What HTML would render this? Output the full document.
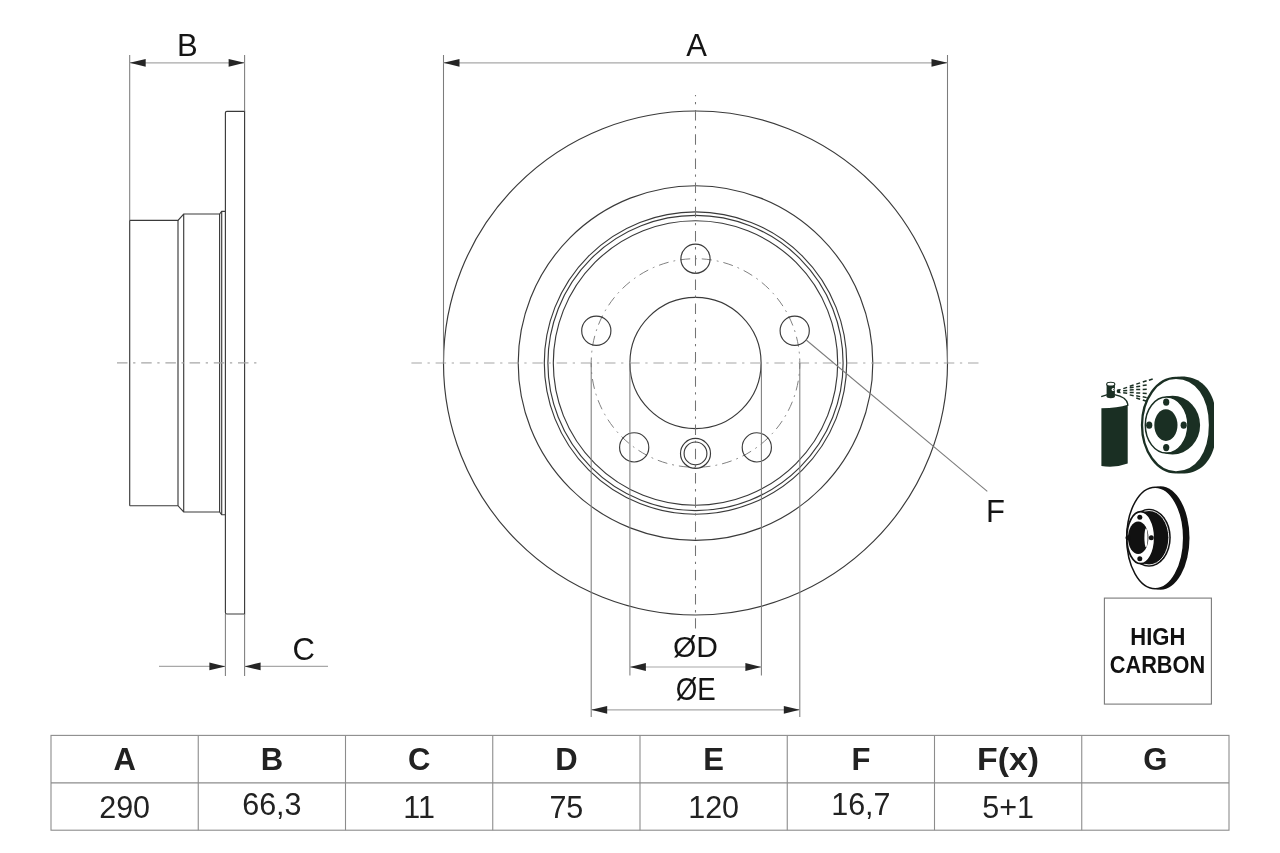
<!DOCTYPE html>
<html><head><meta charset="utf-8"><style>
html,body{margin:0;padding:0;background:#fff;}
body{width:1280px;height:853px;overflow:hidden;position:relative;font-family:"Liberation Sans",sans-serif;}
svg{position:absolute;left:0;top:0;will-change:transform;}
</style></head><body>
<svg width="1280" height="853" viewBox="0 0 1280 853">
<path d="M225.4 612.5 L225.4 112.8 Q225.4 111.3 226.9 111.3 L244.6 111.3 L244.6 614 L226.9 614 Q225.4 614 225.4 612.5 Z" fill="none" stroke="#3a3a3a" stroke-width="1.15"/>
<path d="M129.7 220.3 L178 220.3 L183.7 214 L219.6 214 L221.7 211.3 L225.4 211.3" fill="none" stroke="#3a3a3a" stroke-width="1.15"/>
<path d="M129.7 505.7 L178 505.7 L183.7 512 L219.6 512 L221.7 514.7 L225.4 514.7" fill="none" stroke="#3a3a3a" stroke-width="1.15"/>
<line x1="129.7" y1="220.3" x2="129.7" y2="505.7" stroke="#3a3a3a" stroke-width="1.15"/>
<line x1="178" y1="220.3" x2="178" y2="505.7" stroke="#3a3a3a" stroke-width="1.15"/>
<line x1="183.7" y1="214" x2="183.7" y2="512" stroke="#3a3a3a" stroke-width="1.15"/>
<line x1="219.6" y1="214" x2="219.6" y2="512" stroke="#3a3a3a" stroke-width="1.15"/>
<line x1="221.7" y1="211.3" x2="221.7" y2="514.7" stroke="#3a3a3a" stroke-width="1.15"/>
<line x1="129.7" y1="55" x2="129.7" y2="220.3" stroke="#7c7c7c" stroke-width="1.05"/>
<line x1="244.6" y1="55" x2="244.6" y2="111.3" stroke="#7c7c7c" stroke-width="1.05"/>
<line x1="225.4" y1="614" x2="225.4" y2="676" stroke="#7c7c7c" stroke-width="1.05"/>
<line x1="244.6" y1="614" x2="244.6" y2="676" stroke="#7c7c7c" stroke-width="1.05"/>
<line x1="129.7" y1="62.8" x2="244.6" y2="62.8" stroke="#a8a8a8" stroke-width="1.2"/>
<path d="M129.70 62.80 L145.70 66.70 L145.70 58.90 Z" fill="#252525"/>
<path d="M244.60 62.80 L228.60 58.90 L228.60 66.70 Z" fill="#252525"/>
<line x1="159" y1="666.4" x2="225.4" y2="666.4" stroke="#a8a8a8" stroke-width="1.2"/>
<line x1="244.6" y1="666.4" x2="328" y2="666.4" stroke="#a8a8a8" stroke-width="1.2"/>
<path d="M225.40 666.40 L209.40 662.50 L209.40 670.30 Z" fill="#252525"/>
<path d="M244.60 666.40 L260.60 670.30 L260.60 662.50 Z" fill="#252525"/>
<line x1="117" y1="362.8" x2="258" y2="362.8" stroke="#a6a6a6" stroke-width="1.15" stroke-dasharray="10.5 5.6 2.3 5.8"/>
<circle cx="695.5" cy="363.0" r="252" fill="none" stroke="#3a3a3a" stroke-width="1.15"/>
<circle cx="695.5" cy="363.0" r="177.3" fill="none" stroke="#3a3a3a" stroke-width="1.15"/>
<circle cx="695.5" cy="363.0" r="151.2" fill="none" stroke="#3a3a3a" stroke-width="1.15"/>
<circle cx="695.5" cy="363.0" r="147.6" fill="none" stroke="#3a3a3a" stroke-width="1.15"/>
<circle cx="695.5" cy="363.0" r="142.2" fill="none" stroke="#3a3a3a" stroke-width="1.15"/>
<circle cx="695.5" cy="363.0" r="65.6" fill="none" stroke="#3a3a3a" stroke-width="1.15"/>
<circle cx="695.5" cy="363.0" r="104.3" fill="none" stroke="#808080" stroke-width="1" stroke-dasharray="10 5 1.8 5" stroke-dashoffset="4"/>
<circle cx="695.50" cy="258.70" r="14.6" fill="none" stroke="#3a3a3a" stroke-width="1.15"/>
<circle cx="794.70" cy="330.77" r="14.6" fill="none" stroke="#3a3a3a" stroke-width="1.15"/>
<circle cx="756.81" cy="447.38" r="14.6" fill="none" stroke="#3a3a3a" stroke-width="1.15"/>
<circle cx="634.19" cy="447.38" r="14.6" fill="none" stroke="#3a3a3a" stroke-width="1.15"/>
<circle cx="596.30" cy="330.77" r="14.6" fill="none" stroke="#3a3a3a" stroke-width="1.15"/>
<circle cx="695.5" cy="453.4" r="15" fill="none" stroke="#3a3a3a" stroke-width="1.15"/>
<circle cx="695.5" cy="453.4" r="11.4" fill="none" stroke="#3a3a3a" stroke-width="1.15"/>
<line x1="411.4" y1="363.0" x2="979" y2="363.0" stroke="#a6a6a6" stroke-width="1.15" stroke-dasharray="10.5 5.6 2.3 5.8"/>
<line x1="695.5" y1="95" x2="695.5" y2="628.5" stroke="#747474" stroke-width="1.05" stroke-dasharray="10.5 5.6 2.3 5.8" stroke-dashoffset="9.2"/>
<line x1="443.5" y1="55" x2="443.5" y2="363" stroke="#7c7c7c" stroke-width="1.05"/>
<line x1="947.5" y1="55" x2="947.5" y2="363" stroke="#7c7c7c" stroke-width="1.05"/>
<line x1="443.5" y1="62.8" x2="947.5" y2="62.8" stroke="#a8a8a8" stroke-width="1.2"/>
<path d="M443.50 62.80 L459.50 66.70 L459.50 58.90 Z" fill="#252525"/>
<path d="M947.50 62.80 L931.50 58.90 L931.50 66.70 Z" fill="#252525"/>
<line x1="629.9" y1="363.0" x2="629.9" y2="675.6" stroke="#7c7c7c" stroke-width="1.05"/>
<line x1="761.4" y1="363.0" x2="761.4" y2="675.6" stroke="#7c7c7c" stroke-width="1.05"/>
<line x1="591.2" y1="363.0" x2="591.2" y2="717" stroke="#7c7c7c" stroke-width="1.05"/>
<line x1="799.8" y1="363.0" x2="799.8" y2="717" stroke="#7c7c7c" stroke-width="1.05"/>
<line x1="629.9" y1="667" x2="761.4" y2="667" stroke="#a8a8a8" stroke-width="1.2"/>
<path d="M629.90 667.00 L645.90 670.90 L645.90 663.10 Z" fill="#252525"/>
<path d="M761.40 667.00 L745.40 663.10 L745.40 670.90 Z" fill="#252525"/>
<line x1="591.2" y1="709.8" x2="799.8" y2="709.8" stroke="#a8a8a8" stroke-width="1.2"/>
<path d="M591.20 709.80 L607.20 713.70 L607.20 705.90 Z" fill="#252525"/>
<path d="M799.80 709.80 L783.80 705.90 L783.80 713.70 Z" fill="#252525"/>
<line x1="806.2" y1="340" x2="987.3" y2="491.3" stroke="#7c7c7c" stroke-width="1.05"/>
<text x="187.3" y="55.6" font-size="31" font-family="Liberation Sans, sans-serif" fill="#151515" text-anchor="middle">B</text>
<text x="696.6" y="56" font-size="31" font-family="Liberation Sans, sans-serif" fill="#151515" text-anchor="middle">A</text>
<text x="303.6" y="659.5" font-size="31" font-family="Liberation Sans, sans-serif" fill="#151515" text-anchor="middle">C</text>
<text x="995.5" y="521.6" font-size="31" font-family="Liberation Sans, sans-serif" fill="#151515" text-anchor="middle">F</text>
<text x="695.4" y="657" font-size="30" font-family="Liberation Sans, sans-serif" fill="#151515" text-anchor="middle">ØD</text>
<text x="695.8" y="700" font-size="31" textLength="40" lengthAdjust="spacingAndGlyphs" font-family="Liberation Sans, sans-serif" fill="#151515" text-anchor="middle">ØE</text>
<rect x="51" y="735.4" width="1178" height="94.8" fill="none" stroke="#8c8c8c" stroke-width="1.1"/>
<line x1="51" y1="782.9" x2="1229" y2="782.9" stroke="#8c8c8c" stroke-width="1.1"/>
<line x1="198.25" y1="735.4" x2="198.25" y2="830.2" stroke="#8c8c8c" stroke-width="1.1"/>
<line x1="345.50" y1="735.4" x2="345.50" y2="830.2" stroke="#8c8c8c" stroke-width="1.1"/>
<line x1="492.75" y1="735.4" x2="492.75" y2="830.2" stroke="#8c8c8c" stroke-width="1.1"/>
<line x1="640.00" y1="735.4" x2="640.00" y2="830.2" stroke="#8c8c8c" stroke-width="1.1"/>
<line x1="787.25" y1="735.4" x2="787.25" y2="830.2" stroke="#8c8c8c" stroke-width="1.1"/>
<line x1="934.50" y1="735.4" x2="934.50" y2="830.2" stroke="#8c8c8c" stroke-width="1.1"/>
<line x1="1081.75" y1="735.4" x2="1081.75" y2="830.2" stroke="#8c8c8c" stroke-width="1.1"/>
<text x="124.62" y="770.3" font-size="31" font-weight="bold" font-family="Liberation Sans, sans-serif" fill="#222" text-anchor="middle">A</text>
<text x="124.62" y="817.5" font-size="30.5" font-family="Liberation Sans, sans-serif" fill="#222" text-anchor="middle">290</text>
<text x="271.88" y="770.3" font-size="31" font-weight="bold" font-family="Liberation Sans, sans-serif" fill="#222" text-anchor="middle">B</text>
<text x="271.88" y="815.3" font-size="30.5" font-family="Liberation Sans, sans-serif" fill="#222" text-anchor="middle">66,3</text>
<text x="419.12" y="770.3" font-size="31" font-weight="bold" font-family="Liberation Sans, sans-serif" fill="#222" text-anchor="middle">C</text>
<text x="419.12" y="817.5" font-size="30.5" font-family="Liberation Sans, sans-serif" fill="#222" text-anchor="middle">11</text>
<text x="566.38" y="770.3" font-size="31" font-weight="bold" font-family="Liberation Sans, sans-serif" fill="#222" text-anchor="middle">D</text>
<text x="566.38" y="817.5" font-size="30.5" font-family="Liberation Sans, sans-serif" fill="#222" text-anchor="middle">75</text>
<text x="713.62" y="770.3" font-size="31" font-weight="bold" font-family="Liberation Sans, sans-serif" fill="#222" text-anchor="middle">E</text>
<text x="713.62" y="817.5" font-size="30.5" font-family="Liberation Sans, sans-serif" fill="#222" text-anchor="middle">120</text>
<text x="860.88" y="770.3" font-size="31" font-weight="bold" font-family="Liberation Sans, sans-serif" fill="#222" text-anchor="middle">F</text>
<text x="860.88" y="815.3" font-size="30.5" font-family="Liberation Sans, sans-serif" fill="#222" text-anchor="middle">16,7</text>
<text x="1008.12" y="770.3" font-size="31" font-weight="bold" font-family="Liberation Sans, sans-serif" fill="#222" text-anchor="middle" textLength="62" lengthAdjust="spacingAndGlyphs">F(x)</text>
<text x="1008.12" y="817.5" font-size="30.5" font-family="Liberation Sans, sans-serif" fill="#222" text-anchor="middle">5+1</text>
<text x="1155.38" y="770.3" font-size="31" font-weight="bold" font-family="Liberation Sans, sans-serif" fill="#222" text-anchor="middle">G</text>
<defs><clipPath id="cl1"><rect x="1130" y="360" width="83.9" height="130"/></clipPath></defs>
<path d="M1101.4 408.3 Q1118 408 1127.7 404.8 L1127.7 463.5 Q1114 468.5 1101.4 466 Z" fill="#1a2f23"/>
<path d="M1101.2 396.6 L1107.5 394.6 M1114.5 394.6 Q1126.5 397 1127.7 404 L1127.7 406" fill="none" stroke="#1a2f23" stroke-width="1.4"/>
<rect x="1106.6" y="384.2" width="8.3" height="12.5" fill="#1a2f23"/>
<ellipse cx="1110.75" cy="384.2" rx="4.1" ry="1.9" fill="#fff" stroke="#1a2f23" stroke-width="1.1"/>
<ellipse cx="1110.75" cy="396.6" rx="4.1" ry="1.6" fill="#1a2f23"/>
<circle cx="1113.1" cy="389.6" r="1.5" fill="#fff"/>
<circle cx="1113.8" cy="389.6" r="0.6" fill="#1a2f23"/>
<path d="M1116.8 390 Q1117 389 1120.8 389.1 L1120 391.2 L1120.8 393.2 Q1117 393.2 1116.8 392 Z" fill="#1a2f23"/>
<line x1="1123.30" y1="388.62" x2="1127.10" y2="387.38" stroke="#1a2f23" stroke-width="1.5"/>
<line x1="1123.20" y1="390.74" x2="1127.20" y2="390.46" stroke="#1a2f23" stroke-width="1.5"/>
<line x1="1123.20" y1="392.86" x2="1127.20" y2="393.14" stroke="#1a2f23" stroke-width="1.5"/>
<line x1="1129.80" y1="386.22" x2="1133.60" y2="384.98" stroke="#1a2f23" stroke-width="1.5"/>
<line x1="1129.72" y1="387.78" x2="1133.68" y2="387.22" stroke="#1a2f23" stroke-width="1.5"/>
<line x1="1129.70" y1="389.90" x2="1133.70" y2="389.70" stroke="#1a2f23" stroke-width="1.5"/>
<line x1="1129.70" y1="392.40" x2="1133.70" y2="392.60" stroke="#1a2f23" stroke-width="1.5"/>
<line x1="1129.74" y1="394.88" x2="1133.66" y2="395.72" stroke="#1a2f23" stroke-width="1.5"/>
<line x1="1136.30" y1="384.12" x2="1140.10" y2="382.88" stroke="#1a2f23" stroke-width="1.5"/>
<line x1="1136.22" y1="386.78" x2="1140.18" y2="386.22" stroke="#1a2f23" stroke-width="1.5"/>
<line x1="1136.20" y1="389.60" x2="1140.20" y2="389.40" stroke="#1a2f23" stroke-width="1.5"/>
<line x1="1136.20" y1="392.90" x2="1140.20" y2="393.10" stroke="#1a2f23" stroke-width="1.5"/>
<line x1="1136.24" y1="395.78" x2="1140.16" y2="396.62" stroke="#1a2f23" stroke-width="1.5"/>
<line x1="1136.32" y1="397.92" x2="1140.08" y2="399.28" stroke="#1a2f23" stroke-width="1.5"/>
<line x1="1142.80" y1="382.02" x2="1146.60" y2="380.78" stroke="#1a2f23" stroke-width="1.5"/>
<line x1="1142.72" y1="385.58" x2="1146.68" y2="385.02" stroke="#1a2f23" stroke-width="1.5"/>
<line x1="1142.70" y1="389.40" x2="1146.70" y2="389.20" stroke="#1a2f23" stroke-width="1.5"/>
<line x1="1142.70" y1="393.20" x2="1146.70" y2="393.40" stroke="#1a2f23" stroke-width="1.5"/>
<line x1="1142.74" y1="396.78" x2="1146.66" y2="397.62" stroke="#1a2f23" stroke-width="1.5"/>
<line x1="1142.82" y1="399.92" x2="1146.58" y2="401.28" stroke="#1a2f23" stroke-width="1.5"/>
<line x1="1148.90" y1="380.22" x2="1152.70" y2="378.98" stroke="#1a2f23" stroke-width="1.5"/>
<path d="M1181.50 376.60 C1204.09 376.60 1216.80 394.06 1216.80 425.10 C1216.80 456.14 1204.09 473.60 1181.50 473.60 C1162.00 473.60 1146.20 451.89 1146.20 425.10 C1146.20 398.31 1162.00 376.60 1181.50 376.60 Z" fill="#1a2f23" clip-path="url(#cl1)"/>
<path d="M1176.00 377.90 C1196.40 377.90 1210.00 396.78 1210.00 425.10 C1210.00 453.42 1196.40 472.30 1176.00 472.30 C1157.22 472.30 1142.00 451.17 1142.00 425.10 C1142.00 399.03 1157.22 377.90 1176.00 377.90 Z" fill="#fff" stroke="#1a2f23" stroke-width="2.3"/>
<ellipse cx="1172.6" cy="425.1" rx="27.5" ry="29.3" fill="#1a2f23"/>
<ellipse cx="1166.6" cy="425.1" rx="21.3" ry="28" fill="#fff" stroke="#1a2f23" stroke-width="1.5"/>
<ellipse cx="1165.9" cy="425.1" rx="11.6" ry="15.8" fill="#1a2f23"/>
<ellipse cx="1166.2" cy="402.2" rx="3.1" ry="3.6" fill="#1a2f23"/>
<ellipse cx="1166.2" cy="447.6" rx="3.1" ry="3.6" fill="#1a2f23"/>
<ellipse cx="1149.2" cy="425.2" rx="3.1" ry="3.6" fill="#1a2f23"/>
<ellipse cx="1183.7" cy="425.2" rx="3.1" ry="3.6" fill="#1a2f23"/>
<ellipse cx="1160.5" cy="538" rx="29" ry="51.7" fill="#111"/>
<ellipse cx="1155.2" cy="538" rx="28.5" ry="50.8" fill="#fff" stroke="#111" stroke-width="1.5"/>
<ellipse cx="1149" cy="537.7" rx="21.8" ry="29" fill="#111"/>
<ellipse cx="1149" cy="537.7" rx="19.8" ry="27.2" fill="none" stroke="#fff" stroke-width="0.9"/>
<ellipse cx="1140.8" cy="537.7" rx="14" ry="26" fill="#fff" stroke="#111" stroke-width="1.8"/>
<ellipse cx="1138.2" cy="537.7" rx="10.2" ry="16.3" fill="#111"/>
<ellipse cx="1146" cy="537.7" rx="1.6" ry="9.5" fill="#fff"/>
<circle cx="1139.8" cy="517.3" r="2.5" fill="#111"/>
<circle cx="1139.8" cy="558.8" r="2.5" fill="#111"/>
<circle cx="1151.3" cy="537.7" r="2.5" fill="#111"/>
<circle cx="1128.1" cy="537.7" r="2.5" fill="#111"/>
<rect x="1104.4" y="598.1" width="107" height="106" fill="none" stroke="#7a7a7a" stroke-width="1.1"/>
<text x="1130.3" y="645" font-size="24" textLength="55" lengthAdjust="spacingAndGlyphs" font-family="Liberation Sans, sans-serif" fill="#111" font-weight="bold">HIGH</text>
<text x="1109.8" y="673.3" font-size="24" textLength="95.3" lengthAdjust="spacingAndGlyphs" font-family="Liberation Sans, sans-serif" fill="#111" font-weight="bold">CARBON</text>
</svg>
</body></html>
